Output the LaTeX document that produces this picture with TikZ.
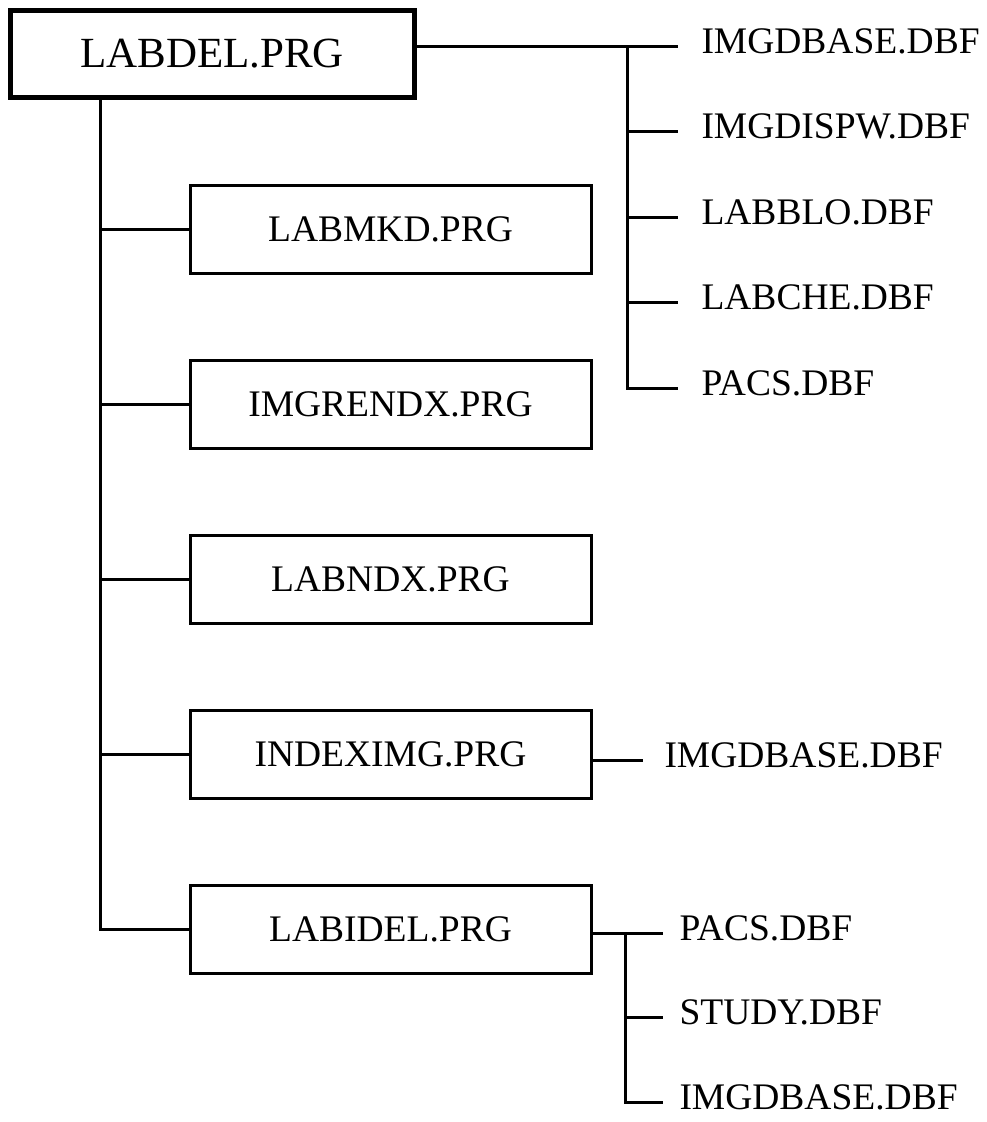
\documentclass[tikz,border=0pt]{standalone}
\usepackage{fontspec}
\setmainfont{Liberation Serif}
\usetikzlibrary{positioning}
\tikzset{>=stealth}

\begin{document}
\begin{tikzpicture}[
        x=1pt, y=1pt,
        line width=3pt,
        block/.style={
            draw,
            line width=3pt,
            outer sep=0pt,
            minimum height=88pt,
            minimum width=401pt,
            font=\fontsize{37.5}{40}\selectfont,
          },
        dbf/.style={
            inner sep=0pt,
            text depth=10pt,
            anchor=west,
            font=\fontsize{37.5}{40}\selectfont,
          },
      ]
      \useasboundingbox (0,0) rectangle (986,-1122);

      % programs
      \node [
        block,
        line width=5pt,
        minimum width=404pt,
        minimum height=87pt,
        font=\fontsize{43}{46}\selectfont
      ] (main) at (212,-53.5) {LABDEL.PRG};
      \node [
        block
      ] (labmkd) at (390.5,-229.5) {LABMKD.PRG};
      \node [
        block,
        below=87pt of labmkd
      ] (imgrendx) {IMGRENDX.PRG};
      \node [
        block,
        below=87pt of imgrendx
      ] (labndx) {LABNDX.PRG};
      \node [
        block,
        below=87pt of labndx
      ] (indeximg) {INDEXIMG.PRG};
      \node [
        block,
        below=87pt of indeximg
      ] (labidel) {LABIDEL.PRG};

      % databases of LABDEL.PRG
      \node [dbf] (dbfA1) at (700,-46) {IMGDBASE.DBF};
      \node [dbf, below=85.5pt of dbfA1.west, anchor=west] (dbfA2) {IMGDISPW.DBF};
      \node [dbf, below=85.5pt of dbfA2.west, anchor=west] (dbfA3) {LABBLO.DBF};
      \node [dbf, below=85.5pt of dbfA3.west, anchor=west] (dbfA4) {LABCHE.DBF};
      \node [dbf, below=85.5pt of dbfA4.west, anchor=west] (dbfA5) {PACS.DBF};

      % databases of INDEXIMG.PRG and LABIDEL.PRG
      \node [dbf] (dbfC) at (663,-760) {IMGDBASE.DBF};
      \node [dbf] (dbfB1) at (678,-933) {PACS.DBF};
      \node [dbf, below=84.5pt of dbfB1.west, anchor=west] (dbfB2) {STUDY.DBF};
      \node [dbf, below=84.5pt of dbfB2.west, anchor=west] (dbfB3) {IMGDBASE.DBF};

      \draw ([xshift=90pt]main.south west) coordinate (trunk) |- (labidel.west);
      \foreach \b in {labmkd,imgrendx,labndx,indeximg}
        \draw (trunk |- \b.west) -- (\b.west);

      \coordinate (busA) at ([xshift=-73pt]dbfA1.west);
      \draw (main.east |- dbfA1.west) -- ([xshift=-22pt]dbfA1.west);
      \draw (busA) |- ([xshift=-22pt]dbfA5.west);
      \foreach \n in {2,3,4}
        \draw (busA |- dbfA\n.west) -- ([xshift=-22pt]dbfA\n.west);

      \draw (indeximg.east |- dbfC.west) -- ([xshift=-20pt]dbfC.west);

      \coordinate (busB) at ([xshift=-53pt]dbfB1.west);
      \draw (labidel.east |- dbfB1.west) -- ([xshift=-15pt]dbfB1.west);
      \draw (busB) |- ([xshift=-15pt]dbfB3.west);
      \draw (busB |- dbfB2.west) -- ([xshift=-15pt]dbfB2.west);
    \end{tikzpicture}
\end{document}
